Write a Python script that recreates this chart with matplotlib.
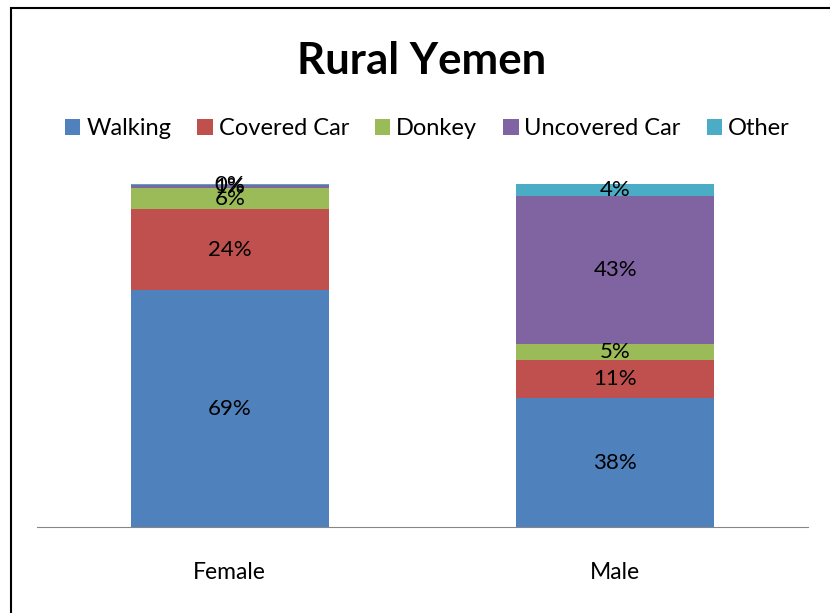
import matplotlib
matplotlib.use("Agg")
import matplotlib.pyplot as plt
from matplotlib.patches import Rectangle
import numpy as np

plt.rcParams['font.family'] = ['Lato', 'DejaVu Sans']

# ---------------------------------------------------------------------------
# Data (percent share by mode of transport)
# ---------------------------------------------------------------------------
groups = ["Female", "Male"]
modes = ["Walking", "Covered Car", "Donkey", "Uncovered Car", "Other"]
walking = [69.0, 37.6]
covered_car = [23.6, 11.0]
donkey = [6.1, 4.9]
uncovered_car = [1.0, 42.9]
other = [0.3, 3.6]
colours = ["#4F81BD", "#C0504D", "#9BBB59", "#8064A2", "#4BACC6"]

series = [walking, covered_car, donkey, uncovered_car, other]

fig = plt.figure(figsize=(8.3, 6.13), dpi=100)
ax = fig.add_axes([0.0446, 0.1403, 0.9289, 0.5595])

x = np.arange(len(groups))
bottom = np.zeros(len(groups))
for name, vals, col in zip(modes, series, colours):
    vals = np.array(vals)
    ax.bar(x, vals, width=0.513, bottom=bottom, color=col, label=name)
    for xi, b, v in zip(x, bottom, vals):
        ax.text(xi, b + v / 2, f"{v:.0f}%", ha="center", va="center",
                fontsize=16, color="black")
    bottom += vals

ax.set_xlim(-0.5, 1.5)
ax.set_ylim(0, 100)
ax.set_xticks(x)
ax.set_xticklabels(groups, fontsize=16.5)
ax.tick_params(axis="x", length=0, pad=25)
ax.set_yticks([])
for side in ("left", "right", "top"):
    ax.spines[side].set_visible(False)
ax.spines["bottom"].set_color("#868686")

fig.text(0.508, 0.900, "Rural Yemen", ha="center", va="center",
         fontsize=31.5, fontweight="bold")
fig.legend(loc="center", bbox_to_anchor=(0.515, 0.790), ncol=5,
           frameon=False, fontsize=17, handlelength=0.65, handleheight=0.65,
           handletextpad=0.25, columnspacing=1.1)

# outer chart border
fig.patches.append(Rectangle((11 / 830, -0.1), 1.2, 1 - 8 / 613 + 0.1,
                             transform=fig.transFigure, fill=False,
                             edgecolor="black", linewidth=1.5))

fig.savefig("out.png", dpi=100)
